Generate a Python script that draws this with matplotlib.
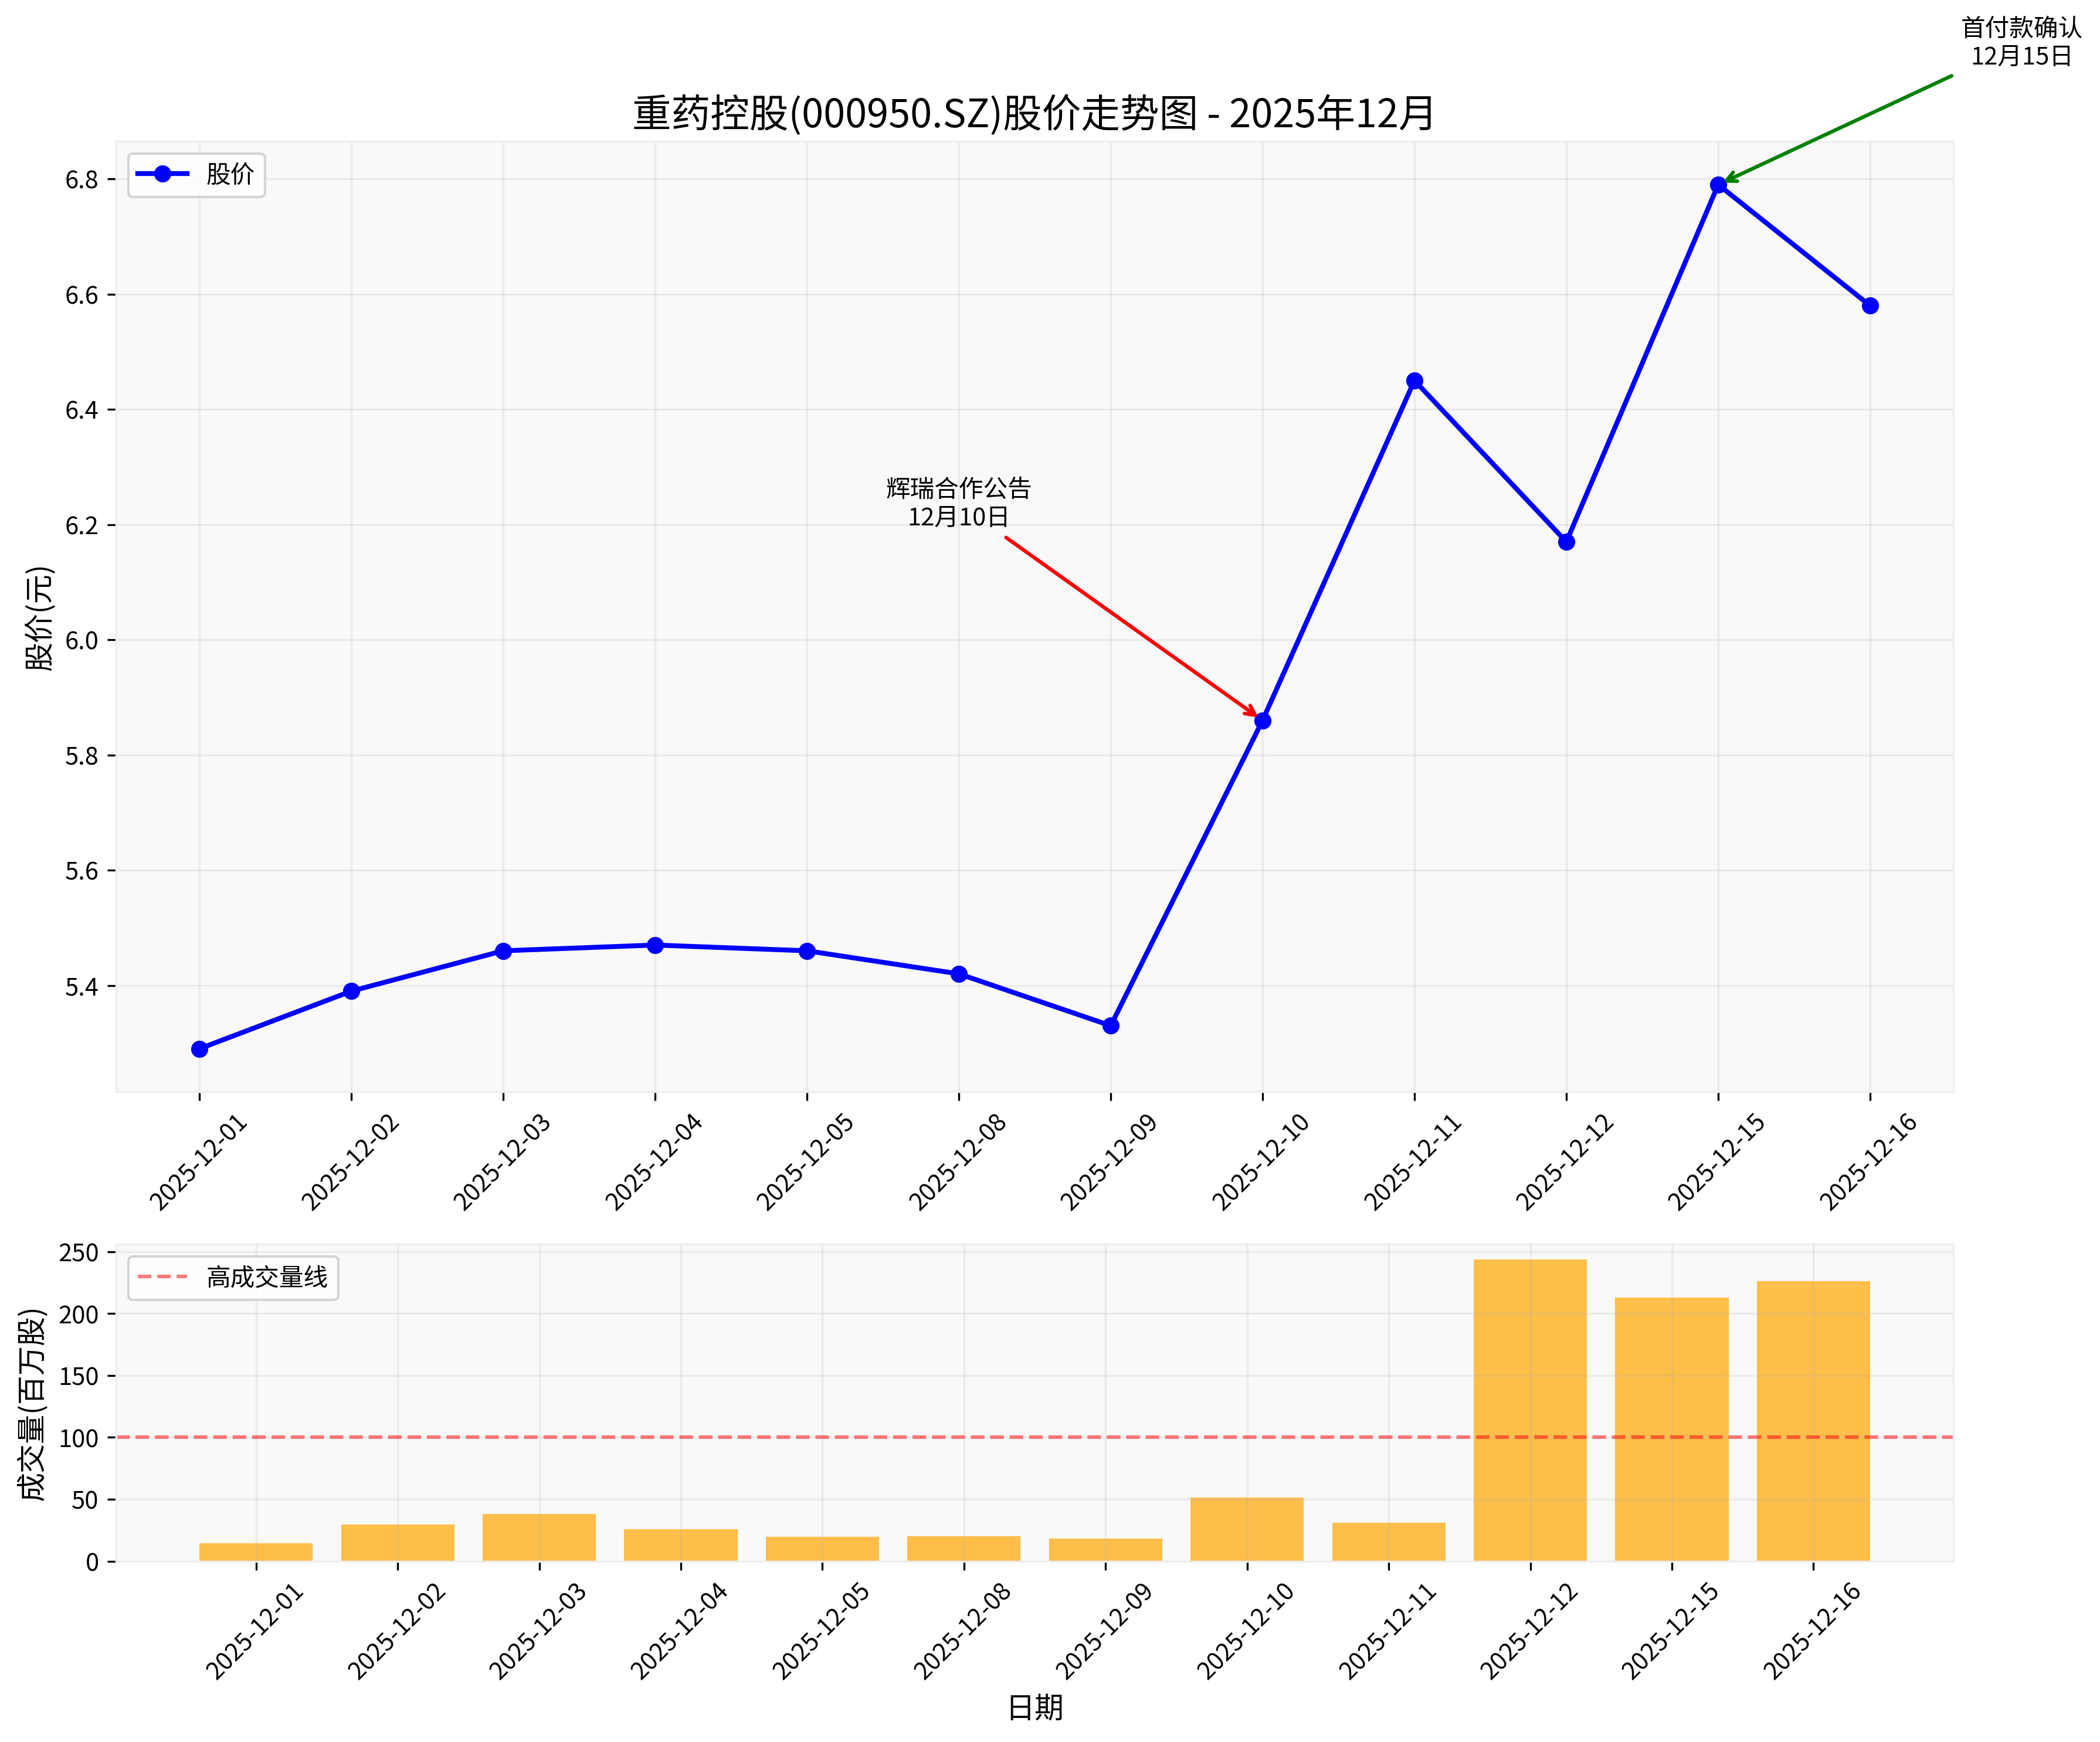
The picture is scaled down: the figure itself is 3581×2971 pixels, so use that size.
import numpy as np
import matplotlib
matplotlib.use("Agg")
import matplotlib.pyplot as plt

plt.rcParams['font.family'] = ['Noto Sans CJK SC', 'DejaVu Sans']
plt.rcParams['axes.unicode_minus'] = False

# data
dates = ['2025-12-01', '2025-12-02', '2025-12-03', '2025-12-04', '2025-12-05', '2025-12-08',
         '2025-12-09', '2025-12-10', '2025-12-11', '2025-12-12', '2025-12-15', '2025-12-16']
prices = [5.29, 5.39, 5.46, 5.47, 5.46, 5.42, 5.33, 5.86, 6.45, 6.17, 6.79, 6.58]
volumes = [14.5, 29.7, 38.2, 25.9, 19.7, 20.2, 18.3, 51.5, 31.1, 243.7, 212.9, 226.1]
high_volume = 100

x = np.arange(len(dates))

fig, (ax1, ax2) = plt.subplots(2, 1, figsize=(12, 10), gridspec_kw={'height_ratios': [3, 1]})

# price chart
ax1.plot(x, prices, color='blue', linewidth=2, marker='o', label='股价')
ax1.set_title('重药控股(000950.SZ)股价走势图 - 2025年12月', fontsize=16)
ax1.set_ylabel('股价(元)', fontsize=12)
ax1.set_xticks(x)
ax1.set_xticklabels(dates, rotation=45)
ax1.grid(True, alpha=0.2)
ax1.legend(loc='upper left')

ax1.annotate('辉瑞合作公告\n12月10日', xy=(7, prices[7]), xytext=(5, 6.2),
             ha='center', fontsize=10,
             arrowprops=dict(arrowstyle='->', color='red', lw=1.5))
ax1.annotate('首付款确认\n12月15日', xy=(10, prices[10]), xytext=(12, 7.0),
             ha='center', fontsize=10,
             arrowprops=dict(arrowstyle='->', color='green', lw=1.5))

# volume chart
ax2.bar(x, volumes, color='orange', alpha=0.7)
ax2.axhline(y=high_volume, color='red', linestyle='--', alpha=0.5, linewidth=1.5, label='高成交量线')
ax2.set_ylabel('成交量(百万股)', fontsize=12)
ax2.set_xlabel('日期', fontsize=12)
ax2.set_xticks(x)
ax2.set_xticklabels(dates, rotation=45)
ax2.grid(True, alpha=0.2)
ax2.legend(loc='upper left')

for ax in (ax1, ax2):
    ax.set_facecolor('#f9f9f9')
    for s in ax.spines.values():
        s.set_color('#eeeeee')

plt.tight_layout()
plt.savefig('out.png', dpi=300, bbox_inches='tight')
